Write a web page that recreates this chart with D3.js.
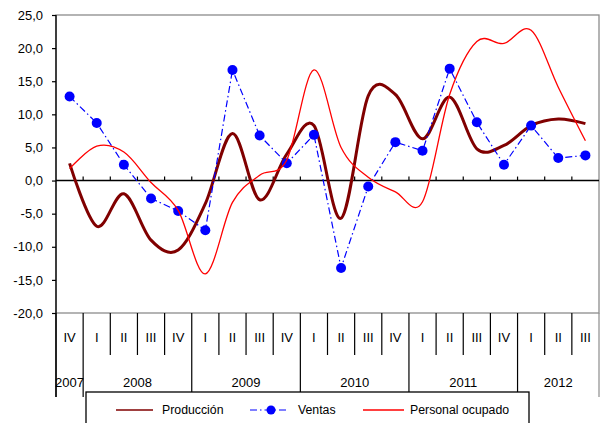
<!DOCTYPE html>
<html><head><meta charset="utf-8">
<script src="https://cdn.jsdelivr.net/npm/d3@7/dist/d3.min.js"></script>
<style>
html,body{margin:0;padding:0;background:#fff;}
svg{display:block;font-family:"Liberation Sans",Arial,sans-serif;}
</style></head>
<body>
<svg id="c" width="603" height="423"></svg>
<script>
const quarters = ["IV","I","II","III","IV","I","II","III","IV","I","II","III","IV","I","II","III","IV","I","II","III"];
const years = ["2007","2008","2009","2010","2011","2012"];
const yearSpans = [1,4,4,4,4,3];
const produccion = [2.6,-6.9,-2.0,-9.0,-10.5,-3.5,7.1,-2.9,4.0,8.3,-5.7,12.8,13.0,6.3,12.6,4.8,5.3,8.3,9.3,8.6];
const ventas = [12.7,8.7,2.4,-2.7,-4.6,-7.5,16.7,6.8,2.6,6.9,-13.2,-0.9,5.8,4.5,16.9,8.8,2.4,8.3,3.4,3.8];
const personal = [1.8,5.2,4.3,-0.3,-4.5,-14.1,-3.3,0.8,3.1,16.7,5.0,0.5,-1.7,-3.2,13.0,21.0,20.7,22.7,14.1,6.0];
const yTicks = [-20,-15,-10,-5,0,5,10,15,20,25];
const seriesNames = ["Producción","Ventas","Personal ocupado"];

const L = 56, R = 599, T = 15, B = 313;
const svg = d3.select("#c");
const idx = d3.range(quarters.length);
const xb = d3.scaleBand().domain(idx).range([L, R]).paddingInner(0).paddingOuter(0);
const xc = i => xb(i) + xb.bandwidth()/2;
const y = d3.scaleLinear().domain([-20,25]).range([B, T]);
const loc = d3.formatLocale({decimal:",",thousands:".",grouping:[3],currency:["",""],minus:"-"});
const fmt = loc.format(".1f");

// plot border (gray)
svg.append("rect").attr("x",L).attr("y",T).attr("width",R-L).attr("height",B-T)
  .attr("fill","none").attr("stroke","#8c8c8c").attr("stroke-width",1.3);

// left axis
const ya = svg.append("g").attr("transform",`translate(${L},0)`)
  .call(d3.axisLeft(y).tickValues(yTicks).tickSize(4).tickPadding(9).tickFormat(fmt));
ya.select(".domain").remove();
ya.selectAll("line").attr("stroke","#000").attr("stroke-width",1.2);
ya.selectAll("text").attr("font-size","13px").attr("fill","#000");

// zero line with ticks upward at category boundaries
const bounds = d3.range(quarters.length+1).map(i => i < quarters.length ? xb(i) : R);
svg.append("line").attr("x1",L).attr("x2",R).attr("y1",y(0)).attr("y2",y(0))
  .attr("stroke","#000").attr("stroke-width",1.5);
svg.selectAll(".zt").data(bounds.slice(1,-1)).enter().append("line")
  .attr("x1",d=>d).attr("x2",d=>d).attr("y1",y(0)-4).attr("y2",y(0))
  .attr("stroke","#000").attr("stroke-width",1.2);

// category table
const qBottom = 355, yBottom = 397;
const yearStarts = [];
let acc = 0;
yearSpans.forEach(n => { yearStarts.push(acc); acc += n; });
const yearBounds = new Set(yearStarts.concat([quarters.length]));
svg.selectAll(".qs").data(bounds).enter().append("line")
  .attr("x1",d=>d).attr("x2",d=>d).attr("y1",B)
  .attr("y2",(d,i)=> yearBounds.has(i) ? yBottom : qBottom)
  .attr("stroke",(d,i)=> i===quarters.length ? "#8c8c8c" : "#000").attr("stroke-width",1.2);
svg.append("line").attr("x1",L).attr("x2",L).attr("y1",T).attr("y2",yBottom).attr("stroke","#000").attr("stroke-width",1.3);
svg.selectAll(".ql").data(quarters).enter().append("text")
  .attr("x",(d,i)=>xc(i)).attr("y",337).attr("dy","0.35em").attr("text-anchor","middle")
  .attr("font-size","13px").attr("fill","#000").text(d=>d);
svg.selectAll(".yl").data(years).enter().append("text")
  .attr("x",(d,i)=> (bounds[yearStarts[i]] + bounds[yearStarts[i]+yearSpans[i]])/2)
  .attr("y",382).attr("dy","0.35em").attr("text-anchor","middle")
  .attr("font-size","13px").attr("fill","#000").text(d=>d);

// series
const smooth = d3.line().x((d,i)=>xc(i)).y(d=>y(d)).curve(d3.curveCatmullRom.alpha(0));
const straight = d3.line().x((d,i)=>xc(i)).y(d=>y(d));
svg.append("path").attr("d",smooth(produccion)).attr("fill","none")
  .attr("stroke","#800000").attr("stroke-width",3);
svg.append("path").attr("d",straight(ventas)).attr("fill","none")
  .attr("stroke","#0000ff").attr("stroke-width",1.2).attr("stroke-dasharray","7,3,1.5,3");
svg.selectAll(".vp").data(ventas).enter().append("circle")
  .attr("cx",(d,i)=>xc(i)).attr("cy",d=>y(d)).attr("r",5).attr("fill","#0000ff");
svg.append("path").attr("d",smooth(personal)).attr("fill","none")
  .attr("stroke","#ff0000").attr("stroke-width",1.3);

// legend
const lg = svg.append("g");
lg.append("rect").attr("x",86).attr("y",392).attr("width",443).attr("height",40)
  .attr("fill","#fff").attr("stroke","#000").attr("stroke-width",1.3);
const items = [
  {name:seriesNames[0], x1:116, x2:153, tx:162, color:"#800000", w:1.5, dash:null, dot:false},
  {name:seriesNames[1], x1:250, x2:288, tx:298, color:"#0000ff", w:1.2, dash:"7,3,1.5,3", dot:true},
  {name:seriesNames[2], x1:363, x2:404, tx:410, color:"#ff0000", w:1.3, dash:null, dot:false}
];
const ly = 410;
items.forEach(it => {
  lg.append("line").attr("x1",it.x1).attr("x2",it.x2).attr("y1",ly).attr("y2",ly)
    .attr("stroke",it.color).attr("stroke-width",it.w).attr("stroke-dasharray",it.dash);
  if (it.dot) lg.append("circle").attr("cx",(it.x1+it.x2)/2+2).attr("cy",ly).attr("r",4.5).attr("fill",it.color);
  lg.append("text").attr("x",it.tx).attr("y",ly).attr("dy","0.35em").attr("font-size","12.3px")
    .attr("fill","#000").text(it.name);
});
</script>
</body></html>
